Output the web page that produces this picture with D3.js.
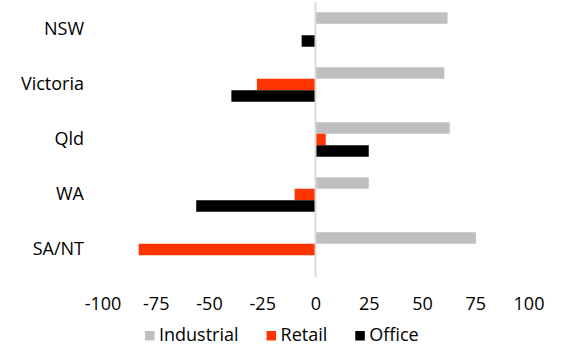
<!DOCTYPE html>
<html>
<head>
<meta charset="utf-8">
<script src="https://cdn.jsdelivr.net/npm/d3@7"></script>
<style>
  body { margin: 0; background: #fff; }
  text { font-family: 'Open Sans', sans-serif; fill: #000; }
</style>
</head>
<body>
<div id="chart"></div>
<script>
// chart size
var width = 561
var height = 344

// data
var regions = ['NSW', 'Victoria', 'Qld', 'WA', 'SA/NT']
var seriesNames = ['Industrial', 'Retail', 'Office']
var industrial = [62, 60.5, 63, 25, 75.3]
var retail = [0, -27.5, 4.8, -9.8, -83]
var office = [-6.5, -39.5, 25, -56, 0]
var xTicks = [-100, -75, -50, -25, 0, 25, 50, 75, 100]
var colors = ['#bfbfbf', '#ff3300', '#000000']

var seriesValues = [industrial, retail, office]
var fontSize = 18

var svg = d3
  .select('#chart')
  .append('svg')
  .attr('width', width)
  .attr('height', height)

// scales
var x = d3.scaleLinear().domain([-100, 100]).range([102.5, 528.5])

var y = d3
  .scaleBand()
  .domain(regions)
  .range([2, 277])
  .paddingInner(0.3727)
  .paddingOuter(0.3727 / 2)

var ySub = d3
  .scaleBand()
  .domain(seriesNames)
  .range([0, y.bandwidth()])

// bars
regions.forEach((region, i) => {
  seriesNames.forEach((name, j) => {
    var v = seriesValues[j][i]
    if (v === 0) return
    svg
      .append('rect')
      .attr('x', x(Math.min(0, v)))
      .attr('y', y(region) + ySub(name))
      .attr('width', Math.abs(x(v) - x(0)))
      .attr('height', ySub.bandwidth())
      .attr('fill', colors[j])
  })
})

// zero line
svg
  .append('line')
  .attr('x1', x(0))
  .attr('x2', x(0))
  .attr('y1', 2)
  .attr('y2', 277)
  .attr('stroke', '#d9d9d9')
  .attr('stroke-width', 2)

// x axis, labels only (plain hyphen for negatives)
var xAxis = svg
  .append('g')
  .attr('transform', 'translate(0,' + 297 + ')')
  .call(
    d3
      .axisBottom(x)
      .tickValues(xTicks)
      .tickSize(0)
      .tickPadding(0)
      .tickFormat(d => String(d))
  )
xAxis.select('.domain').remove()
xAxis
  .selectAll('.tick text')
  .attr('font-size', fontSize)
  .attr('font-family', "'Open Sans', sans-serif")
  .attr('dy', '0.71em')

// category labels
var yAxis = svg
  .append('g')
  .attr('transform', 'translate(84,0)')
  .call(d3.axisLeft(y).tickSize(0).tickPadding(0))
yAxis.select('.domain').remove()
yAxis
  .selectAll('.tick text')
  .attr('font-size', fontSize)
  .attr('font-family', "'Open Sans', sans-serif")

// legend
var lx = 145
seriesNames.forEach((name, j) => {
  svg
    .append('rect')
    .attr('x', lx)
    .attr('y', 331)
    .attr('width', 9.5)
    .attr('height', 9.5)
    .attr('fill', colors[j])
  var t = svg
    .append('text')
    .attr('x', lx + 14)
    .attr('y', 340.5)
    .attr('font-size', fontSize)
    .text(name)
  lx += 14 + t.node().getComputedTextLength() + 28
})
</script>
</body>
</html>
